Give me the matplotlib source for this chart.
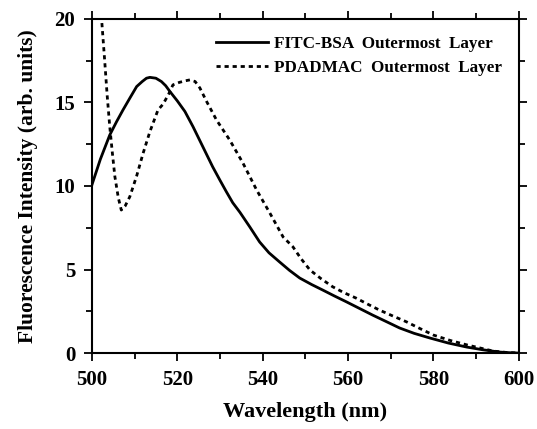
import numpy as np
import matplotlib.pyplot as plt
from matplotlib.ticker import MultipleLocator

# FITC-BSA outermost layer (solid)
wl_bsa = [500, 502, 504.2, 505.8, 507.3, 509, 510.5, 511.8, 512.8, 513.6, 515, 516.3, 517.3,
          518.3, 520, 521.8, 523.7, 526.0, 528.3, 530, 531.5, 533, 534.7, 537, 539.3,
          541.5, 543.9, 546.3, 548.7, 551.5, 554.1, 556.8, 559.6, 562.7, 565.8, 569,
          572.1, 575.5, 579.2, 583.5, 587.8, 591.5, 595.5, 598, 600]
int_bsa = [10.05, 11.6, 13.05, 13.85, 14.55, 15.3, 15.95, 16.25, 16.45, 16.5, 16.45, 16.25, 16.0,
           15.65, 15.1, 14.46, 13.55, 12.35, 11.15, 10.35, 9.66, 9.0, 8.42, 7.55, 6.65,
           6.0, 5.47, 4.95, 4.49, 4.1, 3.77, 3.42, 3.07, 2.67, 2.27, 1.88,
           1.5, 1.18, 0.9, 0.6, 0.36, 0.2, 0.06, 0.02, 0.0]

# PDADMAC outermost layer (dotted)
wl_pd = [500, 501, 502.3, 503, 503.6, 504.2, 504.8, 505.4, 506.2, 506.9, 507.8, 508.9, 510.5,
         512, 513.6, 515.5, 516.7, 518, 519, 520.5, 522, 523, 524.2, 525.3, 526.9, 529.2,
         532.3, 535.4, 538.6, 541.7, 544.8, 547.1, 549, 551.1, 553.7, 556.4, 559,
         561.9, 564.6, 567.4, 570.5, 573.7, 577, 580, 584, 588, 591, 594, 597, 600]
int_pd = [27.0, 23.5, 19.94, 17.54, 15.4, 13.55, 12.0, 10.56, 9.3, 8.56, 8.8, 9.36, 10.6,
          11.95, 13.25, 14.55, 14.9, 15.5, 16.05, 16.2, 16.3, 16.35, 16.25, 15.87, 15.05, 13.95,
          12.75, 11.37, 9.76, 8.38, 6.95, 6.36, 5.65, 4.97, 4.45, 3.97, 3.62,
          3.29, 2.93, 2.57, 2.22, 1.87, 1.45, 1.08, 0.75, 0.48, 0.3, 0.12, 0.04, 0.0]

plt.rcParams['font.family'] = ['Liberation Serif', 'DejaVu Serif']
plt.rcParams['font.weight'] = 'bold'

fig = plt.figure(figsize=(5.37, 4.29), dpi=100)
ax = fig.add_axes([0.171, 0.177, 0.795, 0.779])

ax.plot(wl_bsa, int_bsa, color='black', lw=2.0, label='FITC-BSA  Outermost  Layer')
ax.plot(wl_pd, int_pd, color='black', lw=2.0, linestyle=(0, (1.5, 1.4)),
        label='PDADMAC  Outermost  Layer')

ax.set_xlim(500, 600)
ax.set_ylim(0, 20)
ax.xaxis.set_major_locator(MultipleLocator(20))
ax.xaxis.set_minor_locator(MultipleLocator(10))
ax.yaxis.set_major_locator(MultipleLocator(5))
ax.yaxis.set_minor_locator(MultipleLocator(2.5))
ax.tick_params(which='both', direction='out', top=True, right=True, width=1.3,
               labelsize=15, pad=6)
ax.tick_params(which='major', length=6)
ax.tick_params(which='minor', length=4)
for s in ax.spines.values():
    s.set_linewidth(1.5)

ax.set_xlabel('Wavelength (nm)', fontsize=16, fontweight='bold', labelpad=9)
ax.set_ylabel('Fluorescence Intensity (arb. units)', fontsize=15.5, fontweight='bold', labelpad=12)

leg = ax.legend(loc='upper right', frameon=False, fontsize=12.3, handlelength=3.0,
                handletextpad=0.35, borderaxespad=0.6, labelspacing=0.45)

fig.savefig('out.png', dpi=100)
